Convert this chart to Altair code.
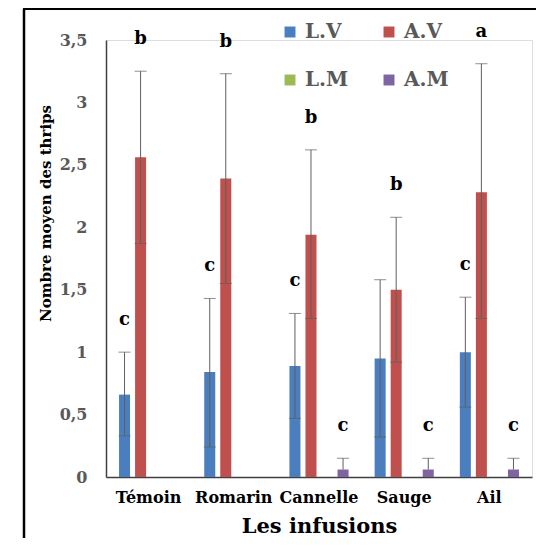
import altair as alt
import pandas as pd

categories = ["Témoin", "Romarin", "Cannelle", "Sauge", "Ail"]
series = ["L.V", "A.V", "L.M", "A.M"]
colors = ["#4a7ebf", "#c0504d", "#9bbb59", "#8064a2"]

mean_LV = [0.66, 0.84, 0.89, 0.95, 1.00]
lo_LV = [0.33, 0.24, 0.47, 0.32, 0.56]
hi_LV = [1.00, 1.43, 1.31, 1.58, 1.44]
let_LV = ["c", "c", "c", "", "c"]

mean_AV = [2.56, 2.39, 1.94, 1.50, 2.28]
lo_AV = [1.87, 1.55, 1.27, 0.92, 1.27]
hi_AV = [3.25, 3.23, 2.62, 2.08, 3.31]
let_AV = ["b", "b", "b", "b", "a"]

mean_LM = [0, 0, 0, 0, 0]
lo_LM = [None, None, None, None, None]
hi_LM = [None, None, None, None, None]
let_LM = ["", "", "", "", ""]

mean_AM = [0, 0, 0.06, 0.06, 0.06]
lo_AM = [None, None, None, None, None]
hi_AM = [None, None, 0.15, 0.15, 0.15]
let_AM = ["", "", "c", "c", "c"]

y_ticks = [0, 0.5, 1, 1.5, 2, 2.5, 3, 3.5]

rows = []
for s, m, lo, hi, lt in [
    ("L.V", mean_LV, lo_LV, hi_LV, let_LV),
    ("A.V", mean_AV, lo_AV, hi_AV, let_AV),
    ("L.M", mean_LM, lo_LM, hi_LM, let_LM),
    ("A.M", mean_AM, lo_AM, hi_AM, let_AM),
]:
    for i, c in enumerate(categories):
        rows.append({"cat": c, "serie": s, "mean": m[i],
                     "lo": lo[i] if lo[i] is not None else m[i],
                     "hi": hi[i], "letter": lt[i],
                     "haslo": lo[i] is not None})
df = pd.DataFrame(rows)

FONT = "DejaVu Serif"

x_enc = alt.X("cat:N", sort=categories,
              scale=alt.Scale(paddingInner=0, paddingOuter=0),
              axis=alt.Axis(title="Les infusions", labelAngle=0, ticks=False,
                            labelFont=FONT, labelFontWeight="bold", labelFontSize=16,
                            labelColor="#000000", labelPadding=12,
                            titleFont=FONT, titleFontWeight="bold", titleFontSize=21,
                            titleColor="#000000", titleY=55, titleBaseline="alphabetic",
                            domainColor="#404040", domainWidth=1.5))
xoff = alt.XOffset("serie:N", sort=series,
                   scale=alt.Scale(domain=series, paddingInner=0.3125, paddingOuter=0.8125))
y_scale = alt.Scale(domain=[0, 3.5], nice=False)

base = alt.Chart(df)

bars = base.mark_bar().encode(
    x=x_enc,
    xOffset=xoff,
    y=alt.Y("mean:Q", scale=y_scale,
            axis=alt.Axis(title="Nombre moyen des thrips", values=y_ticks, ticks=False,
                          grid=False, labelExpr="replace(toString(datum.value), '.', ',')",
                          labelFont=FONT, labelFontWeight="bold", labelFontSize=16,
                          labelColor="#595959", labelPadding=19,
                          titleFont=FONT, titleFontWeight="bold", titleFontSize=15,
                          titleColor="#000000", titleX=-61, titleY=173,
                          titleAngle=270, titleAlign="center", titleBaseline="middle",
                          domainColor="#404040", domainWidth=1.5)),
    color=alt.Color("serie:N", sort=series,
                    scale=alt.Scale(domain=series, range=colors),
                    legend=alt.Legend(title=None, orient="none", legendX=174, legendY=-18,
                                      direction="horizontal",
                                      columns=2, symbolType="square", symbolSize=120,
                                      symbolStrokeWidth=0, labelFont=FONT,
                                      labelFontWeight="bold", labelFontSize=20,
                                      labelColor="#595959", labelOffset=5,
                                      columnPadding=30, rowPadding=28, padding=0)),
)

err = base.transform_filter("datum.hi != null").mark_rule(color="#5f5f5f", strokeWidth=1).encode(
    x=alt.X("cat:N", sort=categories), xOffset=xoff,
    y=alt.Y("lo:Q", scale=y_scale), y2="hi:Q")

cap_hi = base.transform_filter("datum.hi != null").mark_tick(
    color="#5f5f5f", thickness=1, size=12).encode(
    x=alt.X("cat:N", sort=categories), xOffset=xoff,
    y=alt.Y("hi:Q", scale=y_scale))

cap_lo = base.transform_filter("datum.hi != null && datum.haslo").mark_tick(
    color="#5f5f5f", thickness=1, size=12).encode(
    x=alt.X("cat:N", sort=categories), xOffset=xoff,
    y=alt.Y("lo:Q", scale=y_scale))

letters = base.transform_filter("datum.letter != ''").transform_calculate(
    ly="datum.hi != null ? datum.hi : datum.mean").mark_text(
    font=FONT, fontWeight="bold", fontSize=18, color="#000000",
    baseline="middle", dy=-32).encode(
    x=alt.X("cat:N", sort=categories), xOffset=xoff,
    y=alt.Y("ly:Q", scale=y_scale), text="letter:N")

frame_df = pd.DataFrame({"k": [0]})
frame_left = alt.Chart(frame_df).mark_rule(color="#000000", strokeWidth=2.5).encode(
    x=alt.value(-82), y=alt.value(-31), y2=alt.value(500))
frame_top = alt.Chart(frame_df).mark_rule(color="#000000", strokeWidth=2).encode(
    x=alt.value(-83), x2=alt.value(432), y=alt.value(-31))

chart = alt.layer(frame_left, frame_top, bars, err, cap_hi, cap_lo, letters).properties(
    width=426, height=437,
    autosize=alt.AutoSizeParams(type="none"),
    padding={"left": 98, "top": 32, "right": 4, "bottom": 61},
).configure_view(stroke="transparent").configure(background="#ffffff")

chart.save("out.html", embed_options={"renderer": "svg", "actions": False})
